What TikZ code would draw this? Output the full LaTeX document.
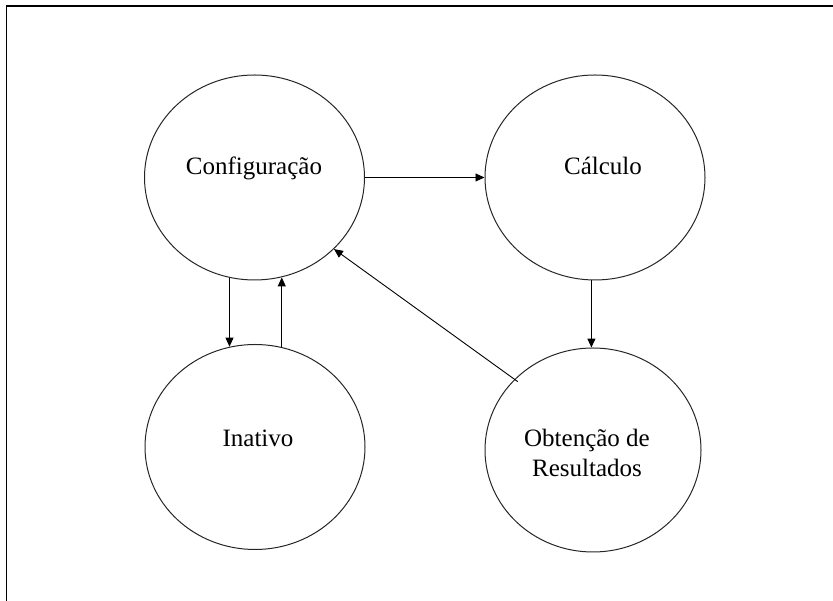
\documentclass[tikz,border=0pt]{standalone}
\usepackage{fontspec}
\setmainfont{Liberation Serif}
\usetikzlibrary{shapes.geometric,arrows.meta}
\begin{document}
\begin{tikzpicture}[x=1pt,y=1pt,
  state/.style={ellipse, draw=black!85, line width=1pt, inner sep=0pt,
                minimum width=220pt, minimum height=205pt},
  lbl/.style={font=\fontsize{25}{30}\selectfont, anchor=base, inner sep=0pt},
  flow/.style={draw, line width=0.9pt, -{Triangle[length=9pt,width=8pt]}}]
\useasboundingbox (0,0) rectangle (833,601);
% frame (only its top and left edges lie inside the page)
\draw[line width=1.5pt] (6.5,0) -- (6.5,595) -- (833,595);

% states
\node[state] (conf) at (254.5,423.5) {};
\node[state] (calc) at (595,423.5) {};
\node[state] (inat) at (255,154) {};
\node[state, minimum width=216pt, minimum height=204pt] (obt) at (593,151) {};

% state names
\node[lbl] (conf-t) at (254,426) {Configuração};
\node[lbl] (calc-t) at (603,426) {Cálculo};
\node[lbl] (inat-t) at (258,154) {Inativo};
\node[lbl] (obt-t1) at (587,154) {Obtenção de};
\node[lbl] (obt-t2) at (587,124) {Resultados};

% transitions
\draw[flow] (conf.east) -- (calc.west);
\draw[flow] (calc.268) -- (calc.268 |- obt.92);
\draw[flow] (conf.256) -- (conf.256 |- inat.104);
\draw[flow] (inat.75) -- (inat.75 |- conf.285);
\draw[flow, shorten <=-4pt] (obt.138) -- (conf.318);
\end{tikzpicture}
\end{document}
